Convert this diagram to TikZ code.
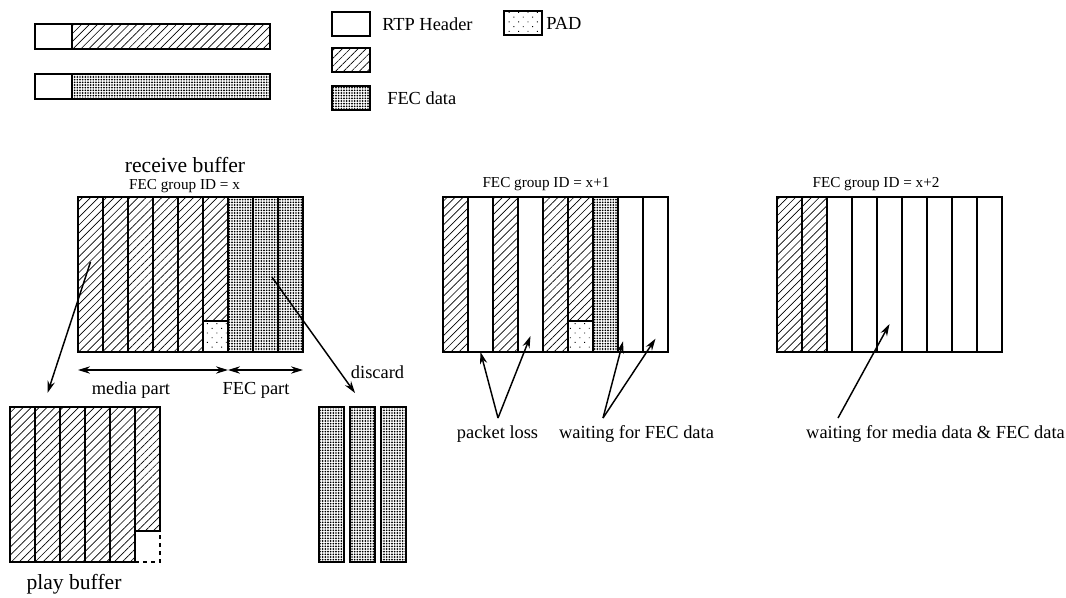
\documentclass[tikz,border=0pt]{standalone}
\usepackage{fontspec}
\setmainfont{Liberation Serif}
\usetikzlibrary{patterns.meta,arrows.meta}

\begin{document}
\begin{tikzpicture}[x=0.75pt,y=-0.75pt,>={Stealth[length=9pt,width=5.5pt]},node distance=18.75pt,
    cell/.style={draw,line width=1.5pt,inner sep=0pt,outer sep=0pt},
    inset/.style={path picture={\fill[#1] ([shift={(0.75pt,-0.75pt)}]path picture bounding box.north west)
        rectangle ([shift={(-0.75pt,0.75pt)}]path picture bounding box.south east);}},
    hatch/.style={inset={pattern={Lines[angle=45,distance=4.2pt,line width=0.5pt]}}},
    fecfill/.style={inset={pattern={Dots[distance=2pt,radius=0.7pt]}}},
    padfill/.style={inset={preaction={fill=white},pattern={Dots[angle=45,distance=5pt,radius=0.5pt]}}},
    col/.style={cell,minimum width=18.75pt,minimum height=116.25pt},
    media/.style={col,hatch},
    fec/.style={col,fecfill},
    lost/.style={col},
    pad/.style={cell,padfill,minimum width=18.75pt,minimum height=23.25pt},
    gap/.style={cell,dashed,minimum width=18.75pt,minimum height=23.25pt},
    key/.style={cell,minimum width=28.5pt,minimum height=18pt},
    hdr/.style={cell,minimum width=27.75pt,minimum height=18.75pt},
    bar/.style={cell,minimum width=148.5pt,minimum height=18.75pt,anchor=west},
    lbl/.style={font=\fontsize{13.8}{16}\selectfont,inner sep=0pt},
    title/.style={font=\fontsize{11.4}{13}\selectfont,inner sep=0pt},
    big/.style={font=\fontsize{16.2}{19}\selectfont,inner sep=0pt},
    link/.style={->,line width=1.1pt}]

    \useasboundingbox (0,0) rectangle (1066,597);

    % packet formats
    \node[hdr] (h1) at (53.5,36.5) {};
    \node[bar,hatch] (m1) at (h1.east) {};
    \node[hdr] (h2) at (53.5,86.5) {};
    \node[bar,fecfill] (m2) at (h2.east) {};

    % legend
    \node[key] (k1) at (351,24) {};
    \node[key,hatch] (k2) at (351,60) {};
    \node[key,fecfill] (k3) at (351,98) {};
    \node[key,padfill] (k4) at (523,23) {};
    \node[lbl,anchor=west] (t1) at (382,24) {RTP Header};
    \node[lbl,anchor=west] (t3) at (387,98) {FEC data};
    \node[lbl,anchor=west] (t4) at (546,23) {PAD};

    % receive buffer, FEC group x
    \node[big] (recv) at (185,165) {receive buffer};
    \node[title] (gx) at (184.5,186) {FEC group ID = x};
    \node[media] (r1) at (90.5,274.5) {};
    \node[media] (r2) [right of=r1] {};
    \node[media] (r3) [right of=r2] {};
    \node[media] (r4) [right of=r3] {};
    \node[media] (r5) [right of=r4] {};
    \node[media] (r6) [right of=r5] {};
    \node[fec] (r7) [right of=r6] {};
    \node[fec] (r8) [right of=r7] {};
    \node[fec] (r9) [right of=r8] {};
    \node[pad,anchor=south] (r6p) at (r6.south) {};

    \draw[<->,line width=1.1pt] ([yshift=-13.5pt]r1.south west) -- ([yshift=-13.5pt]r6.south east);
    \draw[<->,line width=1.1pt] ([yshift=-13.5pt]r7.south west) -- ([yshift=-13.5pt]r9.south east);
    \node[lbl] (mpart) at (131,390) {media part};
    \node[lbl] (fpart) at (256,390) {FEC part};

    % FEC group x+1
    \node[title] (gx1) at (546,184) {FEC group ID = x+1};
    \node[media] (a1) at (455.5,274.5) {};
    \node[lost] (a2) [right of=a1] {};
    \node[media] (a3) [right of=a2] {};
    \node[lost] (a4) [right of=a3] {};
    \node[media] (a5) [right of=a4] {};
    \node[media] (a6) [right of=a5] {};
    \node[fec] (a7) [right of=a6] {};
    \node[lost] (a8) [right of=a7] {};
    \node[lost] (a9) [right of=a8] {};
    \node[pad,anchor=south] (a6p) at (a6.south) {};

    % FEC group x+2
    \node[title] (gx2) at (876,184) {FEC group ID = x+2};
    \node[media] (b1) at (789.5,274.5) {};
    \node[media] (b2) [right of=b1] {};
    \node[lost] (b3) [right of=b2] {};
    \node[lost] (b4) [right of=b3] {};
    \node[lost] (b5) [right of=b4] {};
    \node[lost] (b6) [right of=b5] {};
    \node[lost] (b7) [right of=b6] {};
    \node[lost] (b8) [right of=b7] {};
    \node[lost] (b9) [right of=b8] {};

    % play buffer
    \node[media] (p1) at (22.5,484.5) {};
    \node[media] (p2) [right of=p1] {};
    \node[media] (p3) [right of=p2] {};
    \node[media] (p4) [right of=p3] {};
    \node[media] (p5) [right of=p4] {};
    \node[cell,hatch,minimum width=18.75pt,minimum height=93pt,anchor=north west] (p6) at (p5.north east) {};
    \node[gap,anchor=north] (p6g) at (p6.south) {};
    \node[big] (play) at (74,584) {play buffer};

    % discarded FEC packets
    \node[fec] (d1) at (331.5,484.5) {};
    \node[fec] (d2) [node distance=23.25pt,right of=d1] {};
    \node[fec] (d3) [node distance=23.25pt,right of=d2] {};
    \node[lbl] (disc) at (377.5,372) {discard};

    % notes
    \node[lbl] (loss) at (497.5,434) {packet loss};
    \node[lbl] (wfec) at (636.5,434) {waiting for FEC data};
    \node[lbl] (wall) at (935.5,434) {waiting for media data \& FEC data};
    \coordinate (lossp) at (498,418);
    \coordinate (wfecp) at (603,418);
    \coordinate (wallp) at (838,418);

    \draw[link] ([yshift=9.4pt]r1.center) -- ([yshift=10.5pt]p2.north);
    \draw[link] ([xshift=4.8pt,yshift=-1.9pt]r8.center) -- ([xshift=-5.6pt,yshift=10.5pt]d2.north);
    \draw[link] (lossp) -- (a2.south);
    \draw[link] (lossp) -- ([yshift=12pt]a4.south);
    \draw[link] (wfecp) -- ([xshift=-5.6pt,yshift=8pt]a8.south);
    \draw[link] (wfecp) -- ([yshift=10pt]a9.south);
    \draw[link] (wallp) -- ([yshift=21pt]b5.south);
\end{tikzpicture}
\end{document}
